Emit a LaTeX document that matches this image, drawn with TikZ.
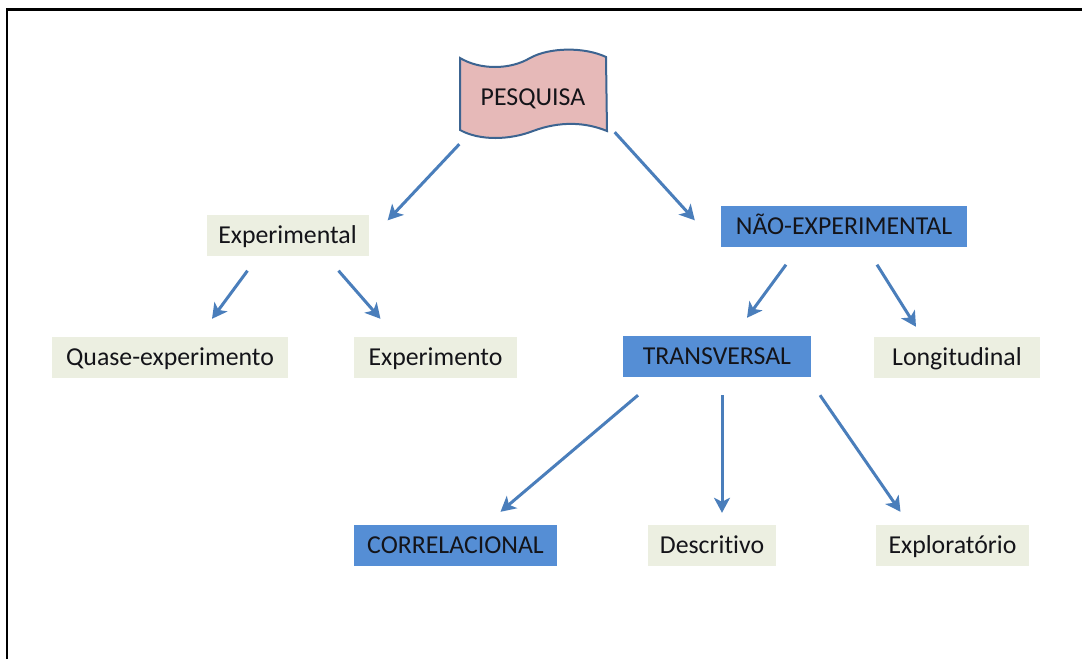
\documentclass[tikz,border=0pt]{standalone}
\usepackage{fontspec}
\setmainfont[Ligatures={NoCommon,NoRare}]{Carlito}
\usetikzlibrary{arrows.meta}
\definecolor{lightbox}{RGB}{236,239,225}
\definecolor{bluebox}{RGB}{85,142,213}
\definecolor{arrowblue}{RGB}{74,126,187}
\definecolor{bannerfill}{RGB}{230,185,184}
\definecolor{bannerline}{RGB}{60,100,145}
\definecolor{txt}{RGB}{20,20,25}
\begin{document}
\begin{tikzpicture}[x=1pt,y=-1pt,
  label/.style={inner sep=0pt, font=\fontsize{25.8}{30}\selectfont, text=txt, text height=20pt, text depth=3.4pt},
  base/.style={label, minimum height=41pt},
  lbox/.style={base, fill=lightbox},
  bbox/.style={base, fill=bluebox},
  conn/.style={draw=arrowblue, line width=3pt, -{Stealth[length=15pt,width=16pt,inset=4pt]}}]
\useasboundingbox (0,0) rectangle (1082,659);
\fill[white] (0,0) rectangle (1082,659);
% frame
\draw[line width=2.5pt] (7,659) -- (7,9.5) -- (1082,9.5);
% banner
\draw[fill=bannerfill, draw=bannerline, line width=2pt]
  (460,58) .. controls (480,70) and (510,70) .. (530,58)
  .. controls (550,47) and (585,47) .. (606,57)
  -- (607,131)
  .. controls (585,122) and (560,121) .. (533,131)
  .. controls (510,140) and (480,141) .. (460,130) -- cycle;
\node[label, minimum width=147pt, minimum height=78pt] (pesq) at (533,97) {PESQUISA};
% nodes
\node[lbox, minimum width=162pt] (exp) at (287.5,235) {Experimental};
\node[bbox, minimum width=246pt] (nao) at (844,226) {NÃO-EXPERIMENTAL};
\node[lbox, minimum width=236pt] (quase) at (170,357.5) {Quase-experimento};
\node[lbox, minimum width=163pt] (expto) at (435.5,357.5) {Experimento};
\node[bbox, minimum width=188pt] (trans) at (717,356.5) {TRANSVERSAL};
\node[lbox, minimum width=166pt] (long) at (957,357.5) {Longitudinal};
\node[bbox, minimum width=203pt] (corr) at (455.5,545.5) {CORRELACIONAL};
\node[lbox, minimum width=128pt] (desc) at (712,545.5) {Descritivo};
\node[lbox, minimum width=153pt] (expl) at (952.5,545.5) {Exploratório};
% connectors
\draw[conn] ([shift={(0,8)}]pesq.south west) -- ([shift={(19,6)}]exp.north east);
\draw[conn] ([shift={(8,-4)}]pesq.south east) -- ([shift={(-26,15)}]nao.north west);
\draw[conn] ([shift={(-40,15)}]exp.south) -- ([shift={(42,-18)}]quase.north);
\draw[conn] ([shift={(51,15)}]exp.south) -- ([shift={(-55,-18)}]expto.north);
\draw[conn] ([shift={(-58,18)}]nao.south) -- ([shift={(30,-18)}]trans.north);
\draw[conn] ([shift={(33,18)}]nao.south) -- ([shift={(-41,-10)}]long.north);
\draw[conn] ([shift={(-79,18)}]trans.south) -- ([shift={(45,-13)}]corr.north);
\draw[conn] ([shift={(5,18)}]trans.south) -- ([shift={(10,-12)}]desc.north);
\draw[conn] ([shift={(103,18)}]trans.south) -- ([shift={(-52,-13)}]expl.north);
\end{tikzpicture}
\end{document}
